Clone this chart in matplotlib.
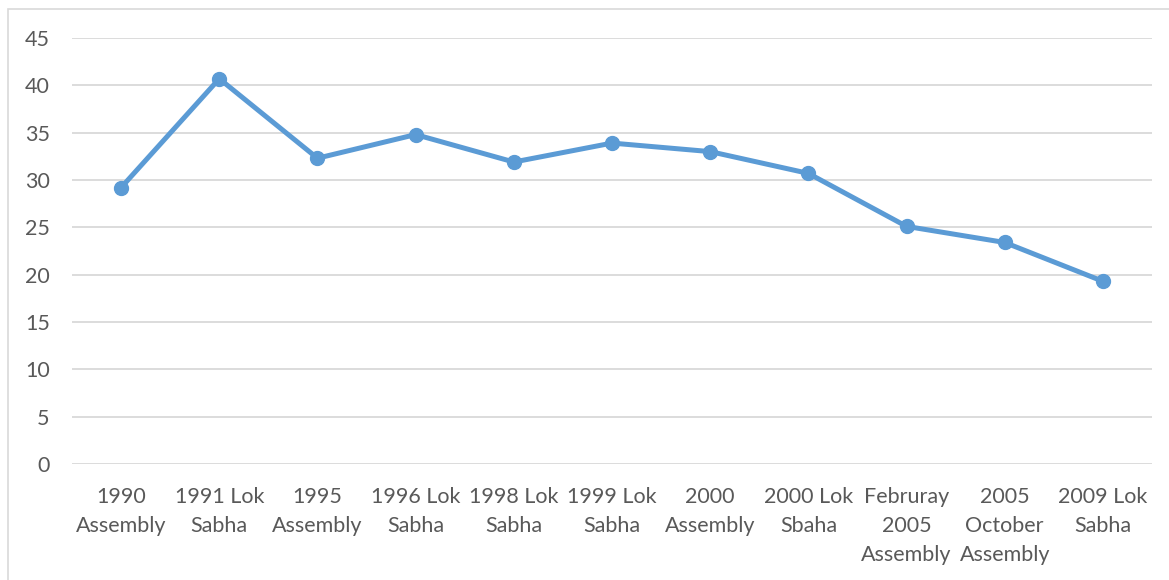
import matplotlib.pyplot as plt
import matplotlib.patches as mpatches

# Donnees
elections = ["1990\nAssembly", "1991 Lok\nSabha", "1995\nAssembly", "1996 Lok\nSabha",
             "1998 Lok\nSabha", "1999 Lok\nSabha", "2000\nAssembly", "2000 Lok\nSbaha",
             "Februray\n2005\nAssembly", "2005\nOctober\nAssembly", "2009 Lok\nSabha"]
valeurs = [29.2, 40.7, 32.3, 34.8, 31.9, 33.9, 33.0, 30.7, 25.1, 23.4, 19.3]

plt.rcParams['font.family'] = ['Lato', 'DejaVu Sans']
gris = '#595959'

fig = plt.figure(figsize=(11.69, 5.8), dpi=100)
ax = fig.add_axes([72 / 1169, 116 / 580, 1080 / 1169, 426 / 580])

x = list(range(len(valeurs)))
ax.plot(x, valeurs, color='#5B9BD5', linewidth=3.6, marker='o', markersize=10,
        solid_joinstyle='round', zorder=3)

ax.set_xlim(-0.5, len(valeurs) - 0.5)
ax.set_ylim(0, 45)
ax.set_yticks(range(0, 46, 5))
ax.set_xticks(x)
ax.set_xticklabels(elections, linespacing=1.58)
ax.yaxis.grid(True, color='#D9D9D9', linewidth=1.3)
ax.set_axisbelow(True)
for s in ax.spines.values():
    s.set_visible(False)
ax.tick_params(axis='both', length=0, labelsize=15.5, colors=gris)
ax.tick_params(axis='x', pad=16.5)
ax.tick_params(axis='y', pad=16)

# Cadre du graphique
cadre = mpatches.Rectangle((8 / 1169, -0.05), 1.1, 1.05 - 9 / 580, transform=fig.transFigure,
                           fill=False, edgecolor='#D9D9D9', linewidth=1.2)
fig.patches.append(cadre)

fig.savefig("out.png", dpi=100)
